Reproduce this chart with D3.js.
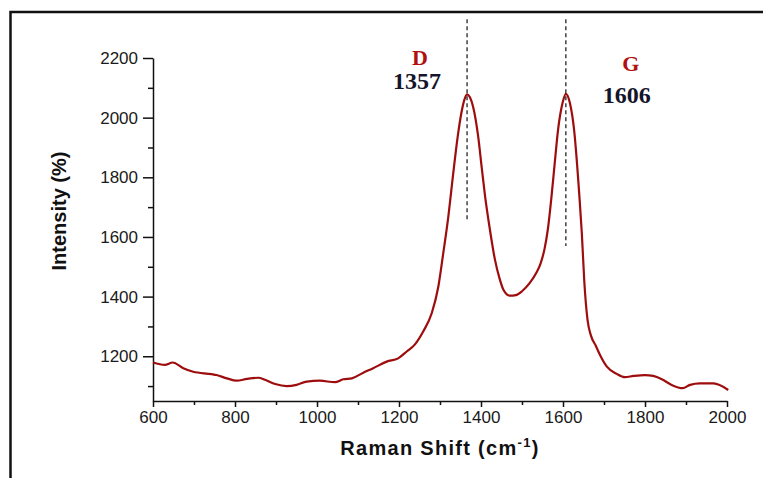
<!DOCTYPE html>
<html>
<head>
<meta charset="utf-8">
<script src="https://cdn.jsdelivr.net/npm/d3@7"></script>
<style>
  body { margin: 0; background: #fff; }
  .axis text { font-family: Arial, "Liberation Sans", sans-serif; font-size: 17px; fill: #1a1a1a; }
  .axis path, .axis line { stroke: #111; stroke-width: 1.5; }
</style>
</head>
<body>
<svg width="763" height="478"></svg>
<script>
// Raman shift (cm-1)
var shift = [600, 629, 648, 674, 698, 743, 755, 780, 804, 829, 857, 873, 898, 926, 950, 975,
  1007, 1044, 1064, 1085, 1113, 1137, 1170, 1198, 1219, 1239, 1259, 1280, 1296, 1308, 1320,
  1332, 1343, 1352, 1359, 1366, 1373, 1381, 1393, 1402, 1410, 1420, 1434, 1445, 1455, 1470,
  1485, 1500, 1519, 1535, 1545, 1555, 1563, 1572, 1580, 1588, 1599, 1607, 1617, 1627, 1640,
  1646, 1652, 1660, 1668, 1680, 1690, 1707, 1731, 1751, 1772, 1800, 1820, 1841, 1865, 1892,
  1910, 1934, 1967, 2003];
// Intensity (%)
var intensity = [1179, 1171, 1179, 1160, 1148, 1140, 1137, 1126, 1118, 1124, 1128, 1121, 1107, 1100, 1104, 1115,
  1118, 1113, 1123, 1126, 1145, 1160, 1182, 1193, 1216, 1240, 1283, 1345, 1434, 1546, 1665,
  1810, 1935, 2015, 2058, 2078, 2068, 2035, 1938, 1830, 1736, 1640, 1524, 1462, 1422, 1403,
  1405, 1418, 1446, 1480, 1510, 1560, 1625, 1736, 1850, 1960, 2050, 2080, 2048, 1960, 1736,
  1610, 1450, 1320, 1270, 1235, 1205, 1165, 1141, 1130, 1134, 1137, 1134, 1123, 1104, 1093,
  1104, 1109, 1109, 1087];

var xTicks = [600, 800, 1000, 1200, 1400, 1600, 1800, 2000];
var xMinor = [700, 900, 1100, 1300, 1500, 1700, 1900];
var yTicks = [1200, 1400, 1600, 1800, 2000, 2200];
var yMinor = [1100, 1300, 1500, 1700, 1900, 2100];

// peak markers: label, position text, dashed line x
var peakNames = ["D", "G"];
var peakLabels = ["1357", "1606"];
var peakX = [1366, 1607];

var svg = d3.select("svg");

// outer frame
svg.append("rect")
    .attr("x", 10.5).attr("y", 12)
    .attr("width", 800).attr("height", 500)
    .attr("fill", "none")
    .attr("stroke", "#111")
    .attr("stroke-width", 2.5);

var margin = {top: 58, left: 153};
var width = 574, height = 343;

var x = d3.scaleLinear().domain([600, 2000]).range([0, width]);
var y = d3.scaleLinear().domain([1050, 2200]).range([height, 0]);

var g = svg.append("g")
    .attr("transform", `translate(${margin.left},${margin.top})`);

// minor ticks
g.append("g")
    .attr("class", "axis")
    .attr("transform", `translate(0,${height})`)
    .call(d3.axisBottom(x).tickValues(xMinor).tickSize(4).tickFormat(""))
    .select(".domain").remove();
g.append("g")
    .attr("class", "axis")
    .call(d3.axisLeft(y).tickValues(yMinor).tickSize(5).tickFormat(""))
    .select(".domain").remove();

// major axes
g.append("g")
    .attr("class", "axis")
    .attr("transform", `translate(0,${height})`)
    .call(d3.axisBottom(x).tickValues(xTicks).tickSize(6).tickSizeOuter(0).tickPadding(4).tickFormat(d3.format("d")));
g.append("g")
    .attr("class", "axis")
    .call(d3.axisLeft(y).tickValues(yTicks).tickSize(10).tickSizeOuter(0).tickPadding(5).tickFormat(d3.format("d")));

// spectrum
var data = shift.map(function(d, i) { return {x: d, y: intensity[i]}; });
var line = d3.line()
    .x(function(d) { return x(d.x); })
    .y(function(d) { return y(d.y); })
    .curve(d3.curveMonotoneX);

g.append("path")
    .datum(data)
    .attr("d", line)
    .attr("fill", "none")
    .attr("stroke", "#9e0d0d")
    .attr("stroke-width", 2.2);

// dashed peak lines
var lineEnds = [[2330, 1655], [2330, 1570]];
peakX.forEach(function(p, i) {
  g.append("line")
      .attr("x1", x(p)).attr("x2", x(p))
      .attr("y1", y(lineEnds[i][0])).attr("y2", y(lineEnds[i][1]))
      .attr("stroke", "#111")
      .attr("stroke-width", 1.2)
      .attr("stroke-dasharray", "4,3");
});

// peak annotations
var nameOffsets = [[-47, 65], [65, 71]];
var numOffsets = [[-50, 89], [61, 103]];
peakX.forEach(function(p, i) {
  svg.append("text")
      .attr("x", margin.left + x(p) + nameOffsets[i][0])
      .attr("y", nameOffsets[i][1])
      .attr("text-anchor", "middle")
      .attr("font-family", "'Liberation Serif', 'Times New Roman', serif")
      .attr("font-weight", "bold")
      .attr("font-size", 22)
      .attr("fill", "#b0100f")
      .text(peakNames[i]);
  svg.append("text")
      .attr("x", margin.left + x(p) + numOffsets[i][0])
      .attr("y", numOffsets[i][1])
      .attr("text-anchor", "middle")
      .attr("font-family", "'Liberation Serif', 'Times New Roman', serif")
      .attr("font-weight", "bold")
      .attr("font-size", 24)
      .attr("fill", "#14142a")
      .text(peakLabels[i]);
});

// axis titles
var xt = svg.append("text")
    .attr("x", margin.left + width / 2)
    .attr("y", 455)
    .attr("text-anchor", "middle")
    .attr("font-family", "Arial, 'Liberation Sans', sans-serif")
    .attr("font-weight", "bold")
    .attr("font-size", 20)
    .attr("letter-spacing", 1.3)
    .attr("fill", "#111")
    .text("Raman Shift (cm");
xt.append("tspan").attr("dy", -8).attr("font-size", 13).text("-1");
xt.append("tspan").attr("dy", 8).text(")");

svg.append("text")
    .attr("transform", "translate(66,211) rotate(-90)")
    .attr("text-anchor", "middle")
    .attr("font-family", "'Liberation Sans Narrow', 'Arial Narrow', Arial, sans-serif")
    .attr("font-weight", "bold")
    .attr("font-size", 20)
    .attr("fill", "#111")
    .text("Intensity (%)");
</script>
</body>
</html>
